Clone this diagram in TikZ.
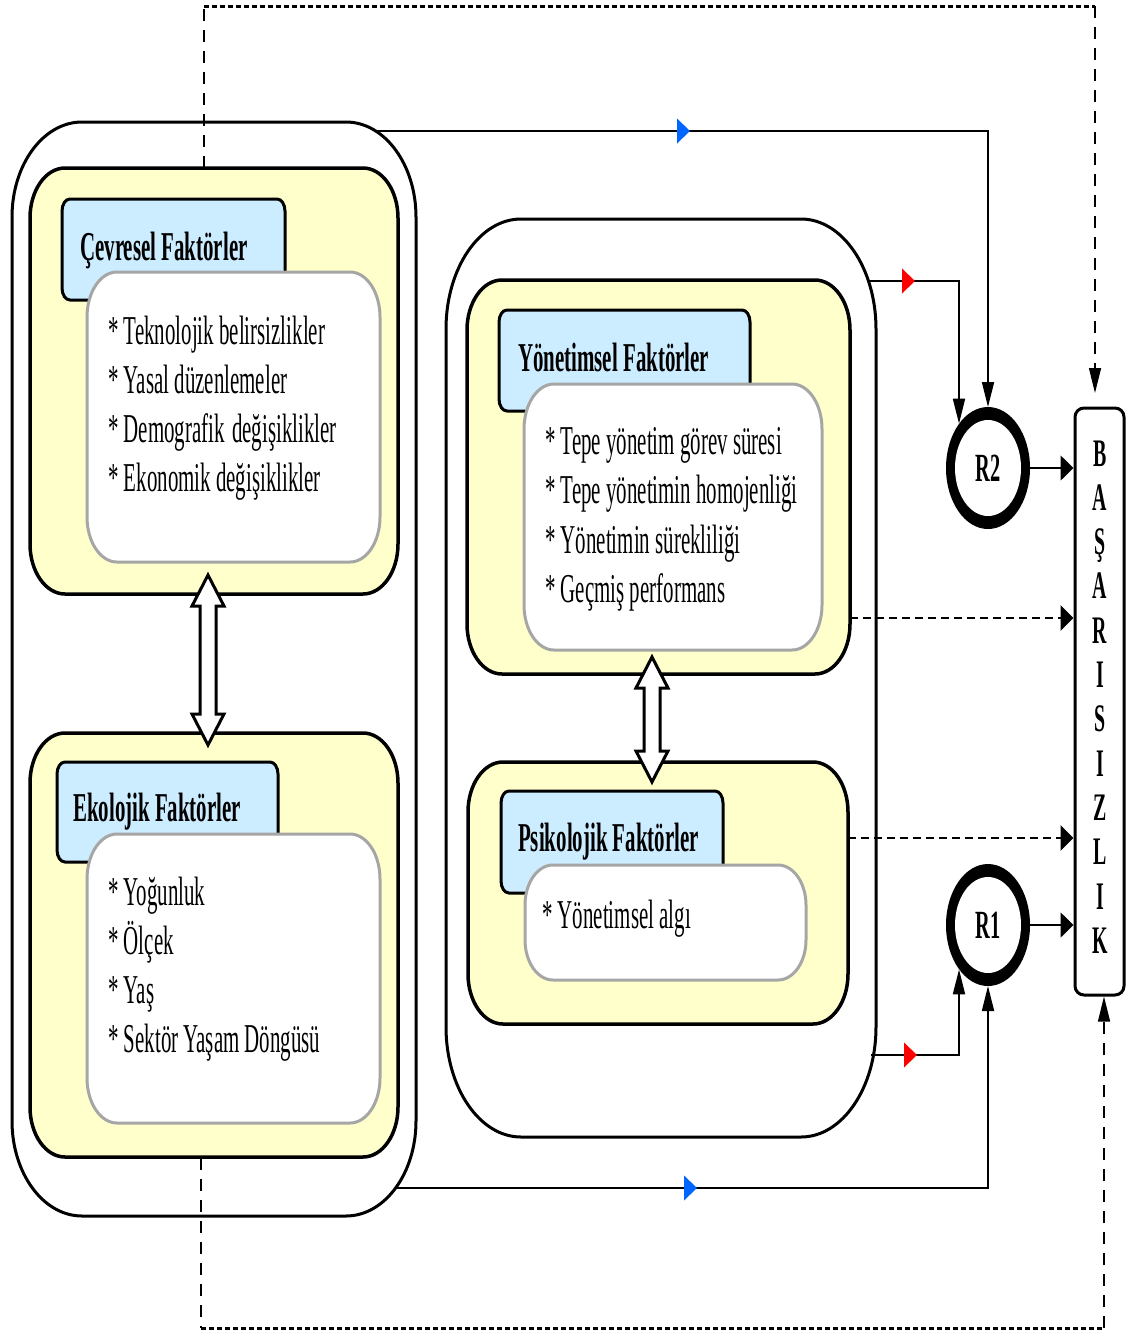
\documentclass[tikz,border=0pt]{standalone}
\usepackage{fontspec}
\usetikzlibrary{arrows.meta,calc,fit,shapes.geometric,decorations.markings}
\newfontfamily\condfont[FakeStretch=0.51]{Liberation Serif}

\definecolor{boxyellow}{HTML}{FFFFCC}
\definecolor{titleblue}{HTML}{CCECFF}
\definecolor{boxgray}{HTML}{A6A6A6}
\definecolor{flowblue}{HTML}{0066FF}
\definecolor{flowred}{HTML}{FF0000}

% rounded box with elliptical corners: name, style, x1, y1, x2, y2, rx, ry
\newcommand\ovalcornerbox[8]{%
  \path[#2] (#3+#7,#4) -- (#5-#7,#4)
    .. controls (#5-0.448*#7,#4) and (#5,#4+0.448*#8) .. (#5,#4+#8)
    -- (#5,#6-#8)
    .. controls (#5,#6-0.448*#8) and (#5-0.448*#7,#6) .. (#5-#7,#6)
    -- (#3+#7,#6)
    .. controls (#3+0.448*#7,#6) and (#3,#6-0.448*#8) .. (#3,#6-#8)
    -- (#3,#4+#8)
    .. controls (#3,#4+0.448*#8) and (#3+0.448*#7,#4) .. (#3+#7,#4) -- cycle;
  \node[inner sep=0pt, outer sep=0pt, fit={(#3,#4) (#5,#6)}] (#1) {};
}

% hollow two-headed arrow between a top tip and a bottom tip
\newcommand\hollowdouble[2]{%
  \draw[hollow] (#1) -- ($(#1)+(16,31)$) -- ($(#1)+(8,31)$) -- ($(#2)+(8,-31)$)
    -- ($(#2)+(16,-31)$) -- (#2) -- ($(#2)+(-16,-31)$) -- ($(#2)+(-8,-31)$)
    -- ($(#1)+(-8,31)$) -- ($(#1)+(-16,31)$) -- cycle;
}

\begin{document}
\begin{tikzpicture}[x=1pt, y=-1pt,
  outerbox/.style={draw=black, line width=3pt, fill=white},
  yellowbox/.style={draw=black, line width=3.5pt, fill=boxyellow},
  bluebox/.style={draw=black, line width=3pt, fill=titleblue},
  whitebox/.style={draw=boxgray, line width=3pt, fill=white},
  hollow/.style={draw=black, fill=white, line width=3pt, line join=miter},
  titletext/.style={anchor=base west, inner sep=0pt, font=\condfont\bfseries\fontsize{41pt}{49pt}\selectfont},
  itemtext/.style={anchor=base west, inner sep=0pt, font=\condfont\fontsize{41pt}{49pt}\selectfont},
  bastext/.style={anchor=base, inner sep=0pt, font=\condfont\bfseries\fontsize{39pt}{44pt}\selectfont},
  ring/.style={ellipse, fill=black, minimum width=84pt, minimum height=122pt, inner sep=0pt, outer sep=0pt,
    font=\condfont\bfseries\fontsize{40pt}{48pt}\selectfont,
    path picture={\fill[white] (path picture bounding box.center) ellipse [x radius=33pt, y radius=48pt];}},
  basbox/.style={draw=black, line width=3pt, fill=white, rounded corners=9pt, minimum width=49pt, minimum height=587pt, inner sep=0pt},
  conn/.style={draw=black, line width=1.8pt},
  dconn/.style={draw=black, line width=2.5pt, dash pattern=on 8pt off 5pt},
  vdash/.style={draw=black, line width=1.3pt, dash pattern=on 12pt off 9pt},
  hdash/.style={draw=black, line width=3pt, dash pattern=on 5pt off 3pt},
  vtip/.style={-{Triangle[length=25pt,width=12pt]}},
  htip/.style={-{Triangle[length=13pt,width=25pt]}},
  bluemark/.style={postaction={decorate}, decoration={markings,
    mark=at position #1 with {\fill[flowblue] (-13pt,-12.5pt) -- (0pt,0pt) -- (-13pt,12.5pt) -- cycle;}}},
  redmark/.style={postaction={decorate}, decoration={markings,
    mark=at position #1 with {\fill[flowred] (-13pt,-12.5pt) -- (0pt,0pt) -- (-13pt,12.5pt) -- cycle;}}},
]
\fill[white] (0,0) rectangle (1131,1331);
\useasboundingbox (0,0) rectangle (1131,1331);

% ---------- left group: environmental and ecological factors ----------
\ovalcornerbox{Lout}{outerbox}{12}{122}{416}{1216}{70}{95}

\ovalcornerbox{Y1}{yellowbox}{30}{168}{398}{594}{35}{50}
\ovalcornerbox{B1}{bluebox}{62}{199}{285}{300}{8}{12}
\node[titletext] (T1) at (80,260) {Çevresel Faktörler};
\ovalcornerbox{W1}{whitebox}{87}{272}{380}{562}{30}{45}
\foreach \txt [count=\i from 0] in {* Teknolojik belirsizlikler, * Yasal düzenlemeler, * Demografik\hspace{2pt} değişiklikler, * Ekonomik değişiklikler}
  \node[itemtext] (W1-\i) at (108,344+49.3*\i) {\txt};

\ovalcornerbox{Y2}{yellowbox}{30}{733}{398}{1157}{35}{50}
\ovalcornerbox{B2}{bluebox}{57}{762}{278}{862}{8}{12}
\node[titletext] (T2) at (73,821) {Ekolojik Faktörler};
\ovalcornerbox{W2}{whitebox}{87}{834}{380}{1123}{30}{45}
\foreach \txt [count=\i from 0] in {* Yoğunluk, * Ölçek, * Yaş, * Sektör Yaşam Döngüsü}
  \node[itemtext] (W2-\i) at (108,905+49.3*\i) {\txt};

% ---------- right group: managerial and psychological factors ----------
\ovalcornerbox{Rout}{outerbox}{446}{219}{876}{1137}{75}{110}

\ovalcornerbox{Y3}{yellowbox}{467}{280}{850}{674}{35}{50}
\ovalcornerbox{B3}{bluebox}{499}{310}{750}{411}{8}{12}
\node[titletext] (T3) at (518,371) {Yönetimsel Faktörler};
\ovalcornerbox{W3}{whitebox}{524}{384}{822}{650}{30}{45}
\foreach \txt [count=\i from 0] in {* Tepe yönetim görev süresi, * Tepe yönetimin homojenliği, * Yönetimin sürekliliği, * Geçmiş performans}
  \node[itemtext] (W3-\i) at (545,454+49.5*\i) {\txt};

\ovalcornerbox{Y4}{yellowbox}{468}{762}{848}{1024}{35}{50}
\ovalcornerbox{B4}{bluebox}{501}{791}{723}{893}{8}{12}
\node[titletext] (T4) at (518,851) {Psikolojik Faktörler};
\ovalcornerbox{W4}{whitebox}{525}{865}{806}{980}{28}{40}
\node[itemtext] (W4-0) at (542,928) {* Yönetimsel algı};

% ---------- two-way links inside each group ----------
\coordinate (a1t) at (208,575);
\coordinate (a1b) at (208,745);
\hollowdouble{a1t}{a1b}
\coordinate (a2t) at (652,657);
\coordinate (a2b) at (652,782);
\hollowdouble{a2t}{a2b}

% ---------- outcome side ----------
\node[ring] (R2) at (988,468) {R2};
\node[ring] (R1) at (988,925) {R1};
\node[basbox] (BAS) at (1099.5,701.5) {};
\foreach \ch [count=\i from 0] in {B,A,Ş,A,R,I,S,I,Z,L,I,K}
  \node[bastext] (BL\i) at (1100,466+44.3*\i) {\ch};

% ---------- connectors ----------
\coordinate (c1s) at (377,131);
\coordinate (c1k) at (988,131);
\draw[conn, vtip, bluemark=313pt] (c1s) -- (c1k) -- (R2.north);

\coordinate (c2s) at (867,281);
\coordinate (c2k) at (959,281);
\draw[conn, vtip, redmark=48pt] (c2s) -- (c2k) -- (c2k |- R2.123);

\draw[conn, htip] (R2.east) -- (R2.east -| BAS.west);
\draw[conn, htip] (R1.east) -- (R1.east -| BAS.west);

\coordinate (c4s) at (850,618);
\draw[dconn, htip] (c4s) -- (c4s -| BAS.west);
\coordinate (c5s) at (848,838);
\draw[dconn, htip] (c5s) -- (c5s -| BAS.west);

\coordinate (c7s) at (871,1055);
\coordinate (c7k) at (959,1055);
\draw[conn, vtip, redmark=46pt] (c7s) -- (c7k) -- (c7k |- R1.237);

\coordinate (c8s) at (395,1188);
\coordinate (c8k) at (988,1188);
\draw[conn, vtip, bluemark=302pt] (c8s) -- (c8k) -- (R1.south);

% dashed feedback loops around the whole model
\coordinate (d1a) at (204,168);
\coordinate (d1b) at (204,6);
\coordinate (d1c) at (1095,6);
\coordinate (d1d) at (1095,393);
\draw[vdash] (d1a) -- (d1b);
\draw[hdash] (d1b) -- (d1c);
\draw[vdash, vtip] (d1c) -- (d1d);

\coordinate (d2a) at (201,1158);
\coordinate (d2b) at (201,1328);
\coordinate (d2c) at (1104,1328);
\draw[vdash] (d2a) -- (d2b);
\draw[hdash] (d2b) -- (d2c);
\draw[vdash, vtip] (d2c) -- (d2c |- BAS.south);
\end{tikzpicture}
\end{document}
